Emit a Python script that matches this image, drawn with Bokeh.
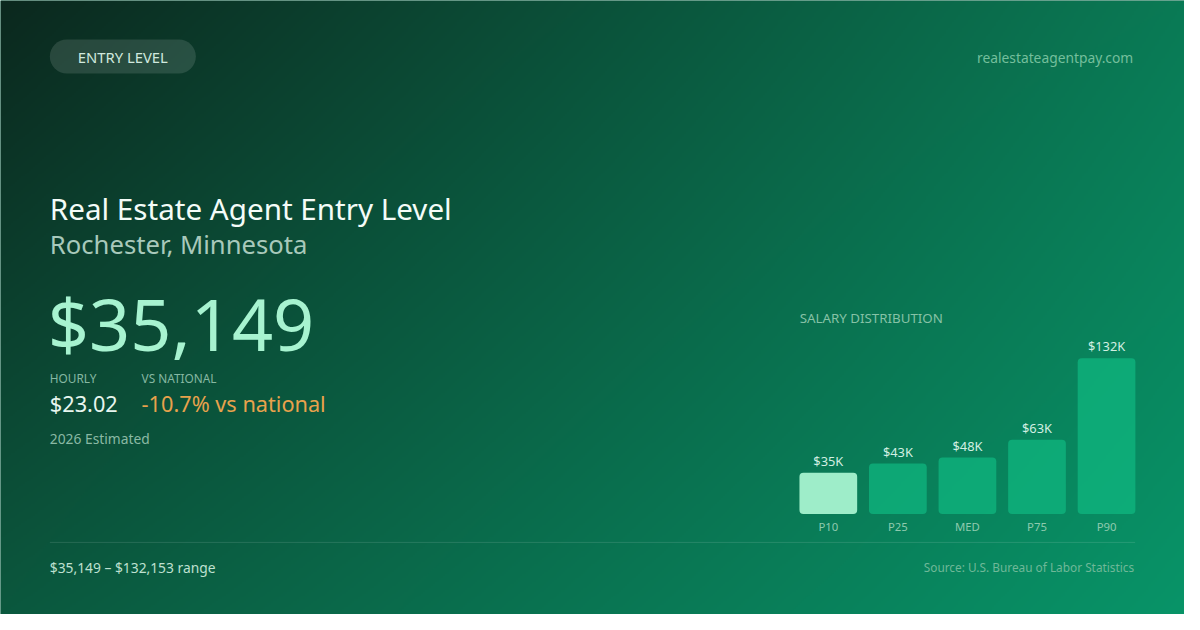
import numpy as np
from bokeh.plotting import figure
from bokeh.models import Range1d
from bokeh.core.properties import value
from bokeh.embed import file_html
from bokeh.resources import INLINE

# ---------------- data ----------------
badge_text = "ENTRY LEVEL"
site_url = "realestateagentpay.com"
title_text = "Real Estate Agent Entry Level"
location_text = "Rochester, Minnesota"
annual_salary = 35149
hourly_wage = 23.02
vs_national_pct = -10.7
estimate_note = "2026 Estimated"
dist_title = "SALARY DISTRIBUTION"
percentiles = ["P10", "P25", "MED", "P75", "P90"]
salaries = [35149, 43000, 48000, 63000, 132153]
salary_labels = ["$35K", "$43K", "$48K", "$63K", "$132K"]
range_low = 35149
range_high = 132153
source_text = "Source: U.S. Bureau of Labor Statistics"

# ---------------- layout helpers ----------------
W, H = 1200, 630          # design canvas (reference pixels)
PW, PH = 1184, 614        # figure size that fits the 8px-margin page
SX, SY = PW / W, PH / H
FONT = value("Noto Sans")


def Y(ry):
    """reference (top-down) pixel row -> figure y (bottom-up)"""
    return H - ry


def fs(n):
    return f"{n * SX:.2f}px"


p = figure(width=PW, height=PH,
           x_range=Range1d(0, W), y_range=Range1d(0, H),
           output_backend="svg", toolbar_location=None,
           x_axis_location=None, y_axis_location=None,
           min_border=0, outline_line_color=None)
p.xgrid.visible = False
p.ygrid.visible = False
p.background_fill_color = "#0a6446"
p.border_fill_color = "#0a6446"

# ---------------- background gradient ----------------
gw, gh = 600, 315
u = np.linspace(0, 1, gw)
v = np.linspace(1, 0, gh)  # row 0 = bottom of frame
U, V = np.meshgrid(u, v)
tl = np.array([12, 40, 30], float)
tr = np.array([10, 122, 85], float)
bl = np.array([11, 88, 62], float)
br = np.array([8, 148, 104], float)
col = ((1 - U)[..., None] * (1 - V)[..., None] * tl + U[..., None] * (1 - V)[..., None] * tr
       + (1 - U)[..., None] * V[..., None] * bl + U[..., None] * V[..., None] * br)
col = np.clip(col, 0, 255).astype(np.uint32)
img = (255 << 24) | (col[..., 2] << 16) | (col[..., 1] << 8) | col[..., 0]
p.image_rgba(image=[img.astype(np.uint32)], x=0, y=0, dw=W, dh=H)

# ---------------- header ----------------
p.quad(left=[50], right=[198], top=[Y(40)], bottom=[Y(75)], border_radius=17,
       fill_color="white", fill_alpha=0.12, line_color=None)
p.text(x=[124], y=[Y(58)], text=[badge_text], text_font=FONT, text_font_size=fs(15),
       text_color="#d0e9de", text_align="center", text_baseline="middle")
p.text(x=[1148], y=[Y(58)], text=[site_url], text_font=FONT, text_font_size=fs(14),
       text_color="#74bf9c", text_align="right", text_baseline="middle")

# ---------------- left block ----------------
p.text(x=[50], y=[Y(213)], text=[title_text], text_font=FONT, text_font_size=fs(30),
       text_color="#f4fcf8", text_baseline="middle")
p.text(x=[50], y=[Y(250)], text=[location_text], text_font=FONT, text_font_size=fs(26),
       text_color="#a8c9bb", text_baseline="middle")
p.text(x=[48], y=[Y(331)], text=[f"${annual_salary:,}"], text_font=FONT, text_font_size=fs(73),
       text_color="#a7f3d0", text_baseline="middle")
p.text(x=[50, 143], y=[Y(387), Y(387)], text=["HOURLY", "VS NATIONAL"], text_font=FONT,
       text_font_size=fs(12), text_color="#86b8a2", text_baseline="middle")
p.text(x=[50], y=[Y(413)], text=[f"${hourly_wage:.2f}"], text_font=FONT, text_font_size=fs(22),
       text_color="#e8f6ef", text_baseline="middle")
p.text(x=[143], y=[Y(413)], text=[f"{vs_national_pct:.1f}% vs national"], text_font=FONT,
       text_font_size=fs(22), text_color="#e8a24c", text_baseline="middle")
p.text(x=[50], y=[Y(449)], text=[estimate_note], text_font=FONT, text_font_size=fs(14),
       text_color="#8ab9a4", text_baseline="middle")

# ---------------- salary distribution bars ----------------
step = 70.5           # px between bar centres
first_c = 839         # px centre of first bar
bar_base = 527        # reference row of bar bottoms
bar_max_h = 160       # px height of the tallest bar
k = bar_max_h / max(salaries)
p.extra_x_ranges["bars"] = Range1d((0 - first_c) / step, (W - first_c) / step)
p.extra_y_ranges["sal"] = Range1d((0 - Y(bar_base)) / k, (H - Y(bar_base)) / k)

idx = list(range(len(percentiles)))
bar_colors = ["#a7f3d0"] + ["#10b981"] * (len(percentiles) - 1)
bar_alpha = [0.95] + [0.7] * (len(percentiles) - 1)
p.vbar(x=idx, width=58.5 / step, bottom=0, top=salaries, x_range_name="bars", y_range_name="sal",
       fill_color=bar_colors, fill_alpha=bar_alpha, line_color=None, border_radius=4)
p.text(x=idx, y=salaries, text=salary_labels, x_range_name="bars", y_range_name="sal",
       y_offset=-12 * SY, text_font=FONT, text_font_size=fs(13), text_color="#d2efe2",
       text_align="center", text_baseline="middle")
p.text(x=idx, y=[0] * len(idx), text=percentiles, x_range_name="bars", y_range_name="sal",
       y_offset=12.5 * SY, text_font=FONT, text_font_size=fs(11.5), text_color="#8ecaae",
       text_align="center", text_baseline="middle")
p.text(x=[810], y=[Y(325.5)], text=[dist_title], text_font=FONT, text_font_size=fs(13.5),
       text_color="#86c2a6", text_baseline="middle")

# ---------------- footer ----------------
p.segment(x0=[50], y0=[Y(556)], x1=[1150], y1=[Y(556)], line_color="white",
          line_alpha=0.12, line_width=1)
p.text(x=[50], y=[Y(581.5)], text=[f"${range_low:,} \u2013 ${range_high:,} range"], text_font=FONT,
       text_font_size=fs(14), text_color="#bfe0d0", text_baseline="middle")
p.text(x=[1149], y=[Y(581.5)], text=[source_text], text_font=FONT, text_font_size=fs(12),
       text_color="#6fb898", text_align="right", text_baseline="middle")

open("out.html", "w").write(file_html(p, INLINE))
